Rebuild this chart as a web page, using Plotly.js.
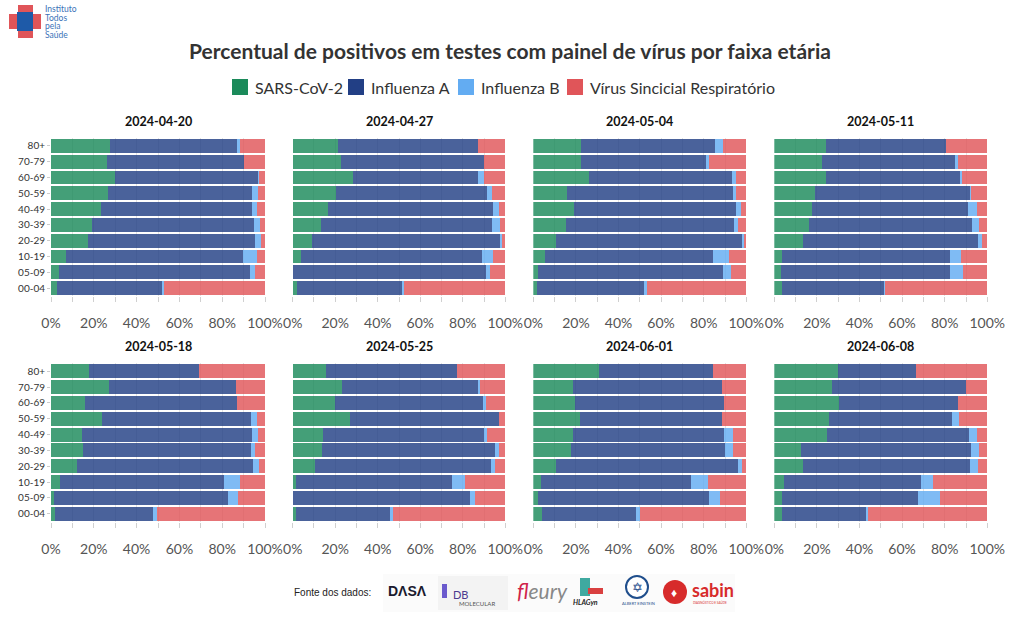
<!DOCTYPE html>
<html>
<head>
<meta charset="utf-8">
<script src="https://cdn.plot.ly/plotly-3.0.1.min.js"></script>
<style>html,body{margin:0;padding:0;background:#fff;}#chart{width:1020px;height:625px;}</style>
</head>
<body>
<div id="chart"></div>
<script>
// ---- data (percent of positive tests), age groups bottom -> top ----
const ageGroups = ['00-04','05-09','10-19','20-29','30-39','40-49','50-59','60-69','70-79','80+'];
const dates = ['2024-04-20','2024-04-27','2024-05-04','2024-05-11','2024-05-18','2024-05-25','2024-06-01','2024-06-08'];
const seriesNames = ['SARS-CoV-2','Influenza A','Influenza B','Vírus Sincicial Respiratório'];
const xTickVals = [0,20,40,60,80,100];
const xTickText = ['0%','20%','40%','60%','80%','100%'];

const sars_0420 = [2.7, 3.9, 7.1, 17.4, 19.3, 23.5, 26.8, 29.9, 26.3, 27.7];
const fluA_0420 = [49.3, 89.0, 82.4, 77.7, 75.4, 70.2, 66.9, 66.8, 64.1, 59.1];
const fluB_0420 = [0.8, 2.4, 6.9, 2.9, 3.1, 2.4, 3.0, 0.6, 0, 1.3];
const vsr_0420  = [47.2, 4.7, 3.6, 2.0, 2.2, 3.9, 3.3, 2.7, 9.6, 11.9];

const sars_0427 = [1.9, 0.3, 3.8, 8.9, 13.2, 16.8, 20.2, 28.2, 22.6, 21.2];
const fluA_0427 = [49.7, 90.6, 85.2, 88.7, 80.7, 77.2, 71.0, 59.1, 67.2, 66.1];
const fluB_0427 = [0.6, 1.7, 5.0, 1.0, 3.4, 3.0, 2.5, 2.7, 0, 0];
const vsr_0427  = [47.8, 7.4, 6.0, 1.4, 2.7, 3.0, 6.3, 10.0, 10.2, 12.7];

const sars_0504 = [1.9, 2.3, 5.5, 10.8, 15.3, 18.9, 15.6, 26.1, 22.5, 22.4];
const fluA_0504 = [50.2, 86.6, 78.9, 87.0, 78.9, 76.4, 78.1, 67.3, 58.6, 62.9];
const fluB_0504 = [1.1, 3.7, 7.3, 0.9, 1.7, 2.2, 1.3, 1.6, 1.4, 3.6];
const vsr_0504  = [46.8, 7.4, 8.3, 1.3, 4.1, 2.5, 5.0, 5.0, 17.5, 11.1];

const sars_0511 = [3.4, 3.3, 3.6, 13.6, 16.1, 17.5, 18.9, 24.1, 22.2, 24.1];
const fluA_0511 = [48.1, 79.2, 78.9, 82.0, 76.7, 73.6, 73.0, 63.2, 62.5, 56.3];
const fluB_0511 = [0.5, 5.9, 5.3, 2.1, 3.1, 4.0, 0.6, 0.6, 1.7, 0];
const vsr_0511  = [48.0, 11.6, 12.2, 2.3, 4.1, 4.9, 7.5, 12.1, 13.6, 19.6];

const sars_0518 = [1.9, 1.6, 4.2, 12.2, 14.9, 14.6, 23.7, 16.0, 27.0, 17.9];
const fluA_0518 = [45.9, 81.3, 76.8, 82.3, 78.4, 79.1, 69.6, 70.8, 59.5, 51.4];
const fluB_0518 = [1.9, 4.6, 7.4, 2.8, 1.8, 2.9, 3.1, 0, 0, 0];
const vsr_0518  = [50.3, 12.5, 11.6, 2.7, 4.9, 3.4, 3.6, 13.2, 13.5, 30.7];

const sars_0525 = [1.4, 0, 1.4, 10.5, 13.8, 14.3, 27.0, 19.7, 23.2, 15.8];
const fluA_0525 = [44.5, 83.4, 73.5, 82.9, 81.5, 75.8, 70.0, 70.0, 63.8, 61.5];
const fluB_0525 = [1.1, 2.3, 6.0, 1.6, 1.7, 1.4, 0, 1.1, 1.2, 0];
const vsr_0525  = [53.0, 14.3, 19.1, 5.0, 3.0, 8.5, 3.0, 9.2, 11.8, 22.7];

const sars_0601 = [3.9, 2.0, 3.4, 10.5, 17.8, 18.5, 21.8, 19.6, 18.5, 31.0];
const fluA_0601 = [44.3, 80.5, 70.6, 85.7, 72.3, 70.9, 66.8, 69.9, 70.2, 53.5];
const fluB_0601 = [1.7, 5.1, 8.2, 1.9, 3.5, 4.2, 0, 0, 0, 0];
const vsr_0601  = [50.1, 12.4, 17.8, 1.9, 6.4, 6.4, 11.4, 10.5, 11.3, 15.5];

const sars_0608 = [3.4, 3.4, 4.4, 13.5, 12.4, 24.7, 25.5, 30.2, 27.1, 29.7];
const fluA_0608 = [39.5, 64.0, 64.3, 78.4, 79.9, 66.8, 57.9, 56.0, 62.9, 36.8];
const fluB_0608 = [0.9, 10.4, 5.8, 3.7, 3.9, 3.6, 3.1, 0, 0, 0];
const vsr_0608  = [56.2, 22.2, 25.5, 4.4, 3.8, 4.9, 13.5, 13.8, 10.0, 33.5];

// ---- build ----
const panelData = [
  [sars_0420, fluA_0420, fluB_0420, vsr_0420],
  [sars_0427, fluA_0427, fluB_0427, vsr_0427],
  [sars_0504, fluA_0504, fluB_0504, vsr_0504],
  [sars_0511, fluA_0511, fluB_0511, vsr_0511],
  [sars_0518, fluA_0518, fluB_0518, vsr_0518],
  [sars_0525, fluA_0525, fluB_0525, vsr_0525],
  [sars_0601, fluA_0601, fluB_0601, vsr_0601],
  [sars_0608, fluA_0608, fluB_0608, vsr_0608]
];
const colors = ['#1b8a5a', '#223f85', '#63acf2', '#e05559'];
const FONT = 'Lato, "Open Sans", sans-serif';

const W = 1020, H = 625;
const colPx = [[51, 265], [292.7, 505.3], [533.3, 746.3], [774.3, 987.3]];
const rowPx = [[138, 296], [363.3, 521.7]];
const titleY = [121, 346];
const px = (v) => v / W, py = (v) => 1 - v / H;

const traces = [];
const layout = {
  width: W, height: H,
  margin: {l: 0, r: 0, t: 0, b: 0},
  paper_bgcolor: '#fff', plot_bgcolor: '#fff',
  font: {family: FONT, color: '#444'},
  barmode: 'stack',
  bargap: 0.12,
  showlegend: false,
  title: {text: '<b>Percentual de positivos em testes com painel de vírus por faixa etária</b>',
          x: 0.5, xanchor: 'center', y: py(52), yanchor: 'middle',
          font: {size: 21, color: '#333', family: FONT}},
  annotations: [],
  shapes: []
};

dates.forEach((d, i) => {
  const r = Math.floor(i / 4), c = i % 4;
  const idx = i === 0 ? '' : String(i + 1);
  const xa = 'x' + idx, ya = 'y' + idx;
  panelData[i].forEach((vals, s) => {
    traces.push({
      type: 'bar', orientation: 'h',
      x: vals, y: ageGroups,
      xaxis: xa, yaxis: ya,
      name: seriesNames[s],
      legendgroup: seriesNames[s],
      marker: {color: colors[s], opacity: 0.82, line: {width: 0}},
      hovertemplate: '%{y}: %{x:.1f}%<extra>' + seriesNames[s] + '</extra>'
    });
  });
  layout['xaxis' + idx] = {
    domain: [px(colPx[c][0]), px(colPx[c][1])],
    anchor: ya,
    range: [0, 100],
    tickvals: xTickVals, ticktext: xTickText,
    ticks: 'outside', ticklen: 5, tickcolor: '#d0d0d0',
    ticklabelstandoff: 9,
    tickfont: {size: 14, color: '#555', family: FONT},
    showgrid: true, gridcolor: '#e4e4e4', gridwidth: 1,
    minor: {dtick: 10, tick0: 0, ticks: 'outside', ticklen: 5, tickcolor: '#d0d0d0', showgrid: true, gridcolor: '#e4e4e4'},
    zeroline: false, showline: false, fixedrange: true
  };
  layout['yaxis' + idx] = {
    domain: [py(rowPx[r][1]), py(rowPx[r][0])],
    anchor: xa,
    type: 'category',
    categoryorder: 'array', categoryarray: ageGroups,
    showticklabels: c === 0,
    ticks: c === 0 ? 'outside' : '', ticklen: 3, tickcolor: '#ccc',
    tickfont: {size: 10, color: '#333', family: FONT},
    showgrid: false, zeroline: false, showline: false, fixedrange: true
  };
  layout.annotations.push({
    text: '<b>' + d + '</b>', xref: 'paper', yref: 'paper',
    x: px((colPx[c][0] + colPx[c][1]) / 2), y: py(titleY[r]),
    xanchor: 'center', yanchor: 'middle', showarrow: false,
    font: {size: 12.5, color: '#111', family: FONT}
  });
});

const ann = (text, x, y, size, color, extra) => layout.annotations.push(Object.assign({
  text: text, xref: 'paper', yref: 'paper', x: px(x), y: py(y), xanchor: 'left', yanchor: 'middle',
  showarrow: false, font: {size: size, color: color, family: FONT}
}, extra || {}));

// ---- legend (drawn in the header row) ----
const legendSquareX = [232, 348, 458, 567];
seriesNames.forEach((n, s) => {
  const x0 = legendSquareX[s];
  layout.shapes.push({type: 'rect', xref: 'paper', yref: 'paper', x0: px(x0), x1: px(x0 + 16),
    y0: py(95), y1: py(79), fillcolor: colors[s], line: {width: 0}});
  ann(n, x0 + 21, 87.5, 16, '#333');
});

// ---- header logo (Instituto Todos pela Saúde) ----
layout.shapes.push(
  {type: 'rect', xref: 'paper', yref: 'paper', x0: px(9), x1: px(41), y0: py(14), y1: py(29), fillcolor: '#e05559', line: {width: 0}},
  {type: 'rect', xref: 'paper', yref: 'paper', x0: px(18), x1: px(33), y0: py(5), y1: py(38), fillcolor: '#e05559', line: {width: 0}},
  {type: 'rect', xref: 'paper', yref: 'paper', x0: px(17), x1: px(33), y0: py(12), y1: py(31), fillcolor: '#1e5aa8', line: {width: 0}},
  // footer logo strip backgrounds
  {type: 'rect', xref: 'paper', yref: 'paper', x0: px(383), x1: px(735), y0: py(574), y1: py(612), fillcolor: '#fbfbfb', line: {width: 0}, layer: 'below'},
  {type: 'rect', xref: 'paper', yref: 'paper', x0: px(438), x1: px(508), y0: py(576), y1: py(610), fillcolor: '#f3f3f3', line: {width: 0}, layer: 'below'},
  // sabin red circle
  {type: 'circle', xref: 'paper', yref: 'paper', x0: px(663), x1: px(687), y0: py(580), y1: py(604), fillcolor: '#d72b2b', line: {width: 0}},
  // einstein circle
  {type: 'circle', xref: 'paper', yref: 'paper', x0: px(626), x1: px(648), y0: py(576), y1: py(598), fillcolor: '#fff', line: {width: 2, color: '#1f4e8c'}},
  // db molecular mark
  {type: 'rect', xref: 'paper', yref: 'paper', x0: px(442), x1: px(447), y0: py(584), y1: py(598), fillcolor: '#6a5acd', line: {width: 0}},
  // HLAGyn icon
  {type: 'rect', xref: 'paper', yref: 'paper', x0: px(580), x1: px(590), y0: py(578), y1: py(596), fillcolor: '#3fa9a0', line: {width: 0}},
  {type: 'rect', xref: 'paper', yref: 'paper', x0: px(588), x1: px(603), y0: py(588), y1: py(594), fillcolor: '#d94040', line: {width: 0}}
);
const logoLines = ['Instituto', 'Todos', 'pela', 'Saúde'];
logoLines.forEach((t, k) => ann(t, 43, 9 + k * 8.6, 8.5, '#3a72b8'));

// ---- footer sources ----
ann('Fonte dos dados:', 292, 592, 10, '#222', {font: {size: 10, color: '#222', family: 'Liberation Sans, Arial, sans-serif'}});
ann('<b>DΛSΛ</b>', 386, 591, 14, '#1a1a2e', {font: {size: 14, color: '#1a1a2e', family: 'Liberation Sans, Arial, sans-serif'}});
ann('DB', 451, 594, 11, '#4b3a8f');
ann('MOLECULAR', 457, 603, 6, '#555');
ann('<i><span style="color:#d0244a">fl</span>eury</i>', 515, 590, 21, '#888');
ann('<b><i>HLAGyn</i></b>', 571, 602, 7, '#222');
ann('✡', 630, 587, 13, '#1f4e8c');
ann('ALBERT EINSTEIN', 620, 603, 4, '#1f4e8c');
ann('♦', 669, 592, 12, '#fff');
ann('<b>sabin</b>', 690, 590, 18, '#d72b2b');
ann('DIAGNÓSTICO E SAÚDE', 691, 602, 3, '#d72b2b');

Plotly.newPlot('chart', traces, layout, {displayModeBar: false, staticPlot: true});
</script>
</body>
</html>
